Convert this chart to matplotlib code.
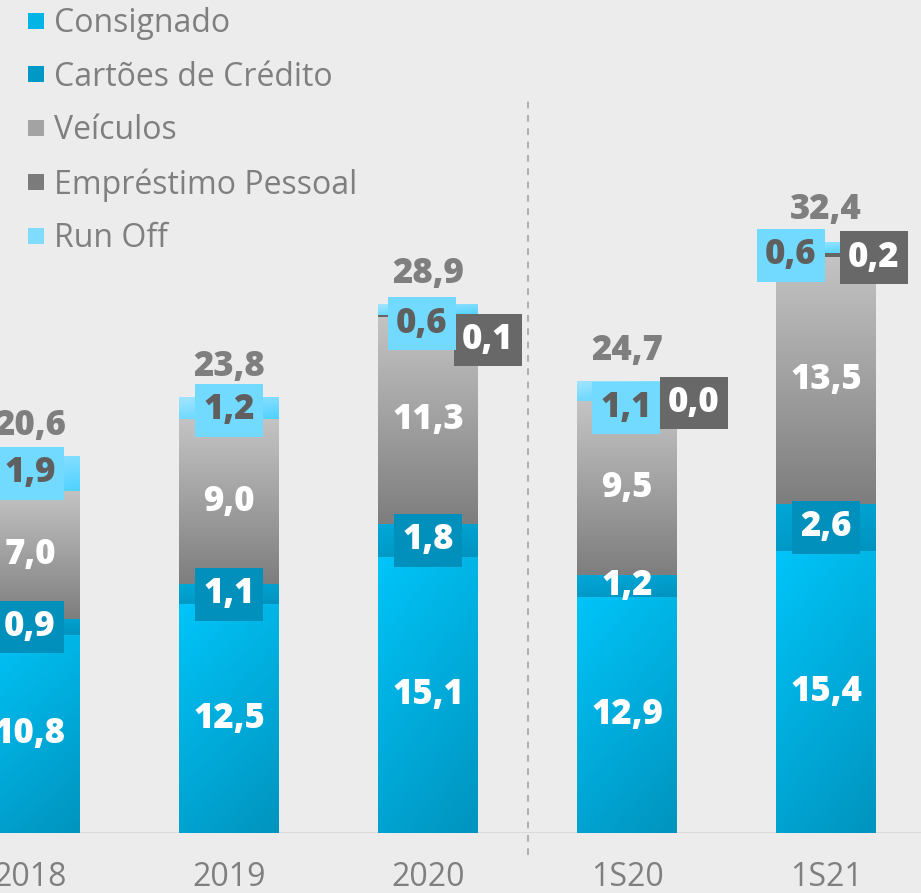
import numpy as np
import matplotlib.pyplot as plt
from matplotlib.lines import Line2D
from matplotlib.colors import LinearSegmentedColormap

# data (R$ bilhões)
periods    = ['2018', '2019', '2020', '1S20', '1S21']
consignado = [10.8, 12.5, 15.1, 12.9, 15.4]
cartoes    = [0.9, 1.1, 1.8, 1.2, 2.6]
veiculos   = [7.0, 9.0, 11.3, 9.5, 13.5]
emprestimo = [0.0, 0.0, 0.1, 0.0, 0.2]
run_off    = [1.9, 1.2, 0.6, 1.1, 0.6]
totals     = [20.6, 23.8, 28.9, 24.7, 32.4]
show_emp   = [False, False, True, True, True]
series_names = ['Consignado', 'Cartões de Crédito', 'Veículos',
                'Empréstimo Pessoal', 'Run Off']

# label tweaks (pixel offsets, as placed in the original)
ro_dx  = [0, 0, -6, -1, -35]
ro_dy  = [0, -2, -14, -17, -8]
emp_dx = [0, 0, 60, 67, 48]
emp_dy = [0, 0, -24, -2, -3]
cart_box = [True, True, True, False, True]

FONT = ['Open Sans', 'DejaVu Sans']
GRAY = '#7f7f7f'
BG = '#ececec'

plt.rcParams['font.family'] = FONT


def fmt(v):
    return f'{v:.1f}'.replace('.', ',')


def fill_gradient(ax, bar, c_top, c_bot, diag=0.0):
    x, y = bar.get_x(), bar.get_y()
    w, h = bar.get_width(), bar.get_height()
    if h <= 0:
        return
    cmap = LinearSegmentedColormap.from_list('g', [c_bot, c_top])
    yy, xx = np.mgrid[0:1:64j, 0:1:16j]
    z = yy * (1 - diag) + (1 - xx) * diag
    im = ax.imshow(z, cmap=cmap, vmin=0, vmax=1, origin='lower',
                   extent=[x, x + w, y, y + h], aspect='auto',
                   interpolation='bilinear', zorder=2)
    im.set_clip_path(bar)


fig = plt.figure(figsize=(9.21, 8.93), dpi=100, facecolor=BG)
ax = fig.add_axes([0, 60 / 893, 1, 833 / 893])
ax.set_facecolor(BG)

x = np.arange(len(periods))
width = 0.5
layers = [consignado, cartoes, veiculos, emprestimo, run_off]
grads = [('#00c4f8', '#0094bf', 0.3),
         ('#00a8d8', '#0093bf', 0.3),
         ('#c3c3c3', '#7e7e7e', 0.0),
         ('#666666', '#666666', 0.0),
         ('#a2e5ff', '#4fd2ff', 0.4)]

bottom = np.zeros(len(periods))
seg_bars = []
for vals, (ct, cb, dg) in zip(layers, grads):
    bars = ax.bar(x, vals, width, bottom=bottom, color=cb, zorder=1,
                  linewidth=0)
    for b in bars:
        fill_gradient(ax, b, ct, cb, dg)
    seg_bars.append(bars)
    bottom = bottom + np.array(vals)

ax.set_xlim(-30 / 199, 891 / 199)
ax.set_ylim(0, 833 / 18.3)

lbl = dict(fontsize=25, fontweight='heavy', ha='center', va='center',
           zorder=5)
PX = 0.72  # px -> pt at 100 dpi
BOX = 'square,pad=0.24'

for i in range(len(periods)):
    # consignado
    b = seg_bars[0][i]
    ax.text(x[i], b.get_y() + b.get_height() / 2, fmt(consignado[i]),
            color='white', **lbl)
    # cartoes
    b = seg_bars[1][i]
    box = dict(boxstyle=BOX, fc='#0090bb', ec='none') if cart_box[i] else None
    ax.text(x[i], b.get_y() + b.get_height() / 2, fmt(cartoes[i]),
            color='white', bbox=box, **lbl)
    # veiculos
    b = seg_bars[2][i]
    ax.text(x[i], b.get_y() + b.get_height() / 2, fmt(veiculos[i]),
            color='white', **lbl)
    # emprestimo pessoal
    if show_emp[i]:
        b = seg_bars[3][i]
        ax.annotate(fmt(emprestimo[i]), (x[i], b.get_y() + b.get_height() / 2),
                    xytext=(emp_dx[i] * PX, emp_dy[i] * PX),
                    textcoords='offset points', color='white',
                    bbox=dict(boxstyle=BOX, fc='#686868', ec='none'),
                    **lbl)
    # run off
    b = seg_bars[4][i]
    ax.annotate(fmt(run_off[i]), (x[i], b.get_y() + b.get_height() / 2),
                xytext=(ro_dx[i] * PX, ro_dy[i] * PX),
                textcoords='offset points', color='#5f5f5f',
                bbox=dict(boxstyle=BOX, fc='#72d9ff', ec='none'),
                **lbl)
    # total
    ax.annotate(fmt(totals[i]), (x[i], totals[i]), xytext=(0, 30 * PX),
                textcoords='offset points', color=GRAY, **lbl)

ax.axhline(0, color='#dadada', lw=1.5, zorder=0)
ax.plot([2.5, 2.5], [-22 / 18.3, 733 / 18.3], color='#a3a3a3', lw=1.2,
        ls=(0, (4, 4)), clip_on=False, zorder=0)

ax.set_xticks(x, periods)
ax.tick_params(axis='x', length=0, pad=20, labelsize=23, labelcolor=GRAY)
ax.tick_params(axis='y', left=False, labelleft=False)
for s in ax.spines.values():
    s.set_visible(False)

leg_colors = ['#00b4e6', '#0099c6', '#a3a3a3', '#7b7b7b', '#7fdcff']
handles = [Line2D([], [], marker='s', ls='none', markersize=11.5, color=c,
                  markeredgewidth=0) for c in leg_colors]
ax.legend(handles, series_names, loc='upper left',
          bbox_to_anchor=(14 / 921, 1 + 6 / 833), frameon=False,
          fontsize=23, labelcolor=GRAY, handlelength=0.55, handletextpad=0.3,
          labelspacing=0.65, borderaxespad=0)

fig.savefig('out.png', dpi=100, facecolor=BG)
